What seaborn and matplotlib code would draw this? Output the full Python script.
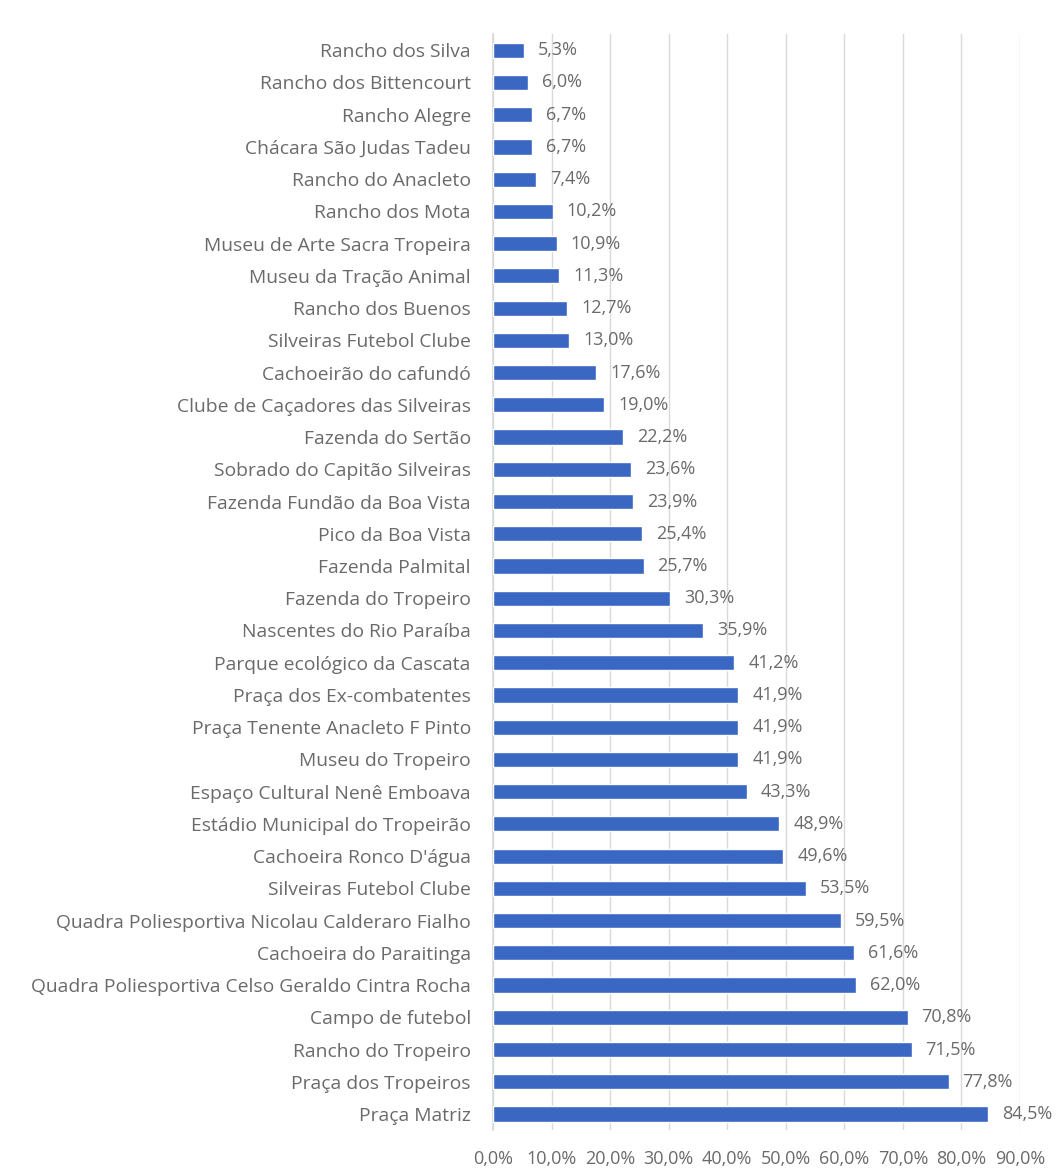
import matplotlib
matplotlib.use("Agg")
import matplotlib.pyplot as plt
import seaborn as sns
import pandas as pd
from matplotlib.ticker import FuncFormatter

categories = [
    "Rancho dos Silva", "Rancho dos Bittencourt", "Rancho Alegre",
    "Chácara São Judas Tadeu", "Rancho do Anacleto", "Rancho dos Mota",
    "Museu de Arte Sacra Tropeira", "Museu da Tração Animal", "Rancho dos Buenos",
    "Silveiras Futebol Clube", "Cachoeirão do cafundó",
    "Clube de Caçadores das Silveiras", "Fazenda do Sertão",
    "Sobrado do Capitão Silveiras", "Fazenda Fundão da Boa Vista",
    "Pico da Boa Vista", "Fazenda Palmital", "Fazenda do Tropeiro",
    "Nascentes do Rio Paraíba", "Parque ecológico da Cascata",
    "Praça dos Ex-combatentes", "Praça Tenente Anacleto F Pinto",
    "Museu do Tropeiro", "Espaço Cultural Nenê Emboava",
    "Estádio Municipal do Tropeirão", "Cachoeira Ronco D'água",
    "Silveiras Futebol Clube", "Quadra Poliesportiva Nicolau Calderaro Fialho",
    "Cachoeira do Paraitinga", "Quadra Poliesportiva Celso Geraldo Cintra Rocha",
    "Campo de futebol", "Rancho do Tropeiro", "Praça dos Tropeiros", "Praça Matriz",
]
values = [5.3, 6.0, 6.7, 6.7, 7.4, 10.2, 10.9, 11.3, 12.7, 13.0, 17.6, 19.0,
          22.2, 23.6, 23.9, 25.4, 25.7, 30.3, 35.9, 41.2, 41.9, 41.9, 41.9,
          43.3, 48.9, 49.6, 53.5, 59.5, 61.6, 62.0, 70.8, 71.5, 77.8, 84.5]
x_ticks = [0, 10, 20, 30, 40, 50, 60, 70, 80, 90]

sns.set_theme(style="white")
plt.rcParams["font.family"] = ["Open Sans", "DejaVu Sans"]

TXT = "#6A6A6A"
df = pd.DataFrame({"key": [str(i) for i in range(len(categories))],
                   "value": values})

fig = plt.figure(figsize=(10.61, 11.76), dpi=100)
fig.patch.set_facecolor("white")
ax = fig.add_axes([0.4647, 0.039, 0.4966, 0.932])

sns.barplot(data=df, x="value", y="key", orient="h", color="#3A67C2",
            width=0.47, saturation=1, ax=ax, zorder=3)
ax.set_xlim(0, 90)
ax.set_xticks(x_ticks)
ax.xaxis.set_major_formatter(FuncFormatter(lambda v, p: f"{v:.1f}%".replace(".", ",")))
ax.set_yticks(range(len(categories)))
ax.set_yticklabels(categories)
ax.set_xlabel("")
ax.set_ylabel("")
ax.grid(axis="x", color="#D9D9D9", linewidth=1, zorder=0)
ax.grid(axis="y", visible=False)
for s in ["top", "right", "bottom"]:
    ax.spines[s].set_visible(False)
ax.spines["left"].set_color("#D9D9D9")
ax.tick_params(axis="y", length=0, pad=16, labelsize=13.9, labelcolor=TXT)
ax.tick_params(axis="x", length=0, pad=14, labelsize=13, labelcolor=TXT)

for cont in ax.containers:
    for bar, v in zip(cont, values):
        ax.annotate(f"{v:.1f}%".replace(".", ","),
                    (bar.get_width(), bar.get_y() + bar.get_height() / 2),
                    xytext=(10, 0), textcoords="offset points",
                    ha="left", va="center", fontsize=13, color=TXT)

fig.savefig("out.png", dpi=100, facecolor="white")
